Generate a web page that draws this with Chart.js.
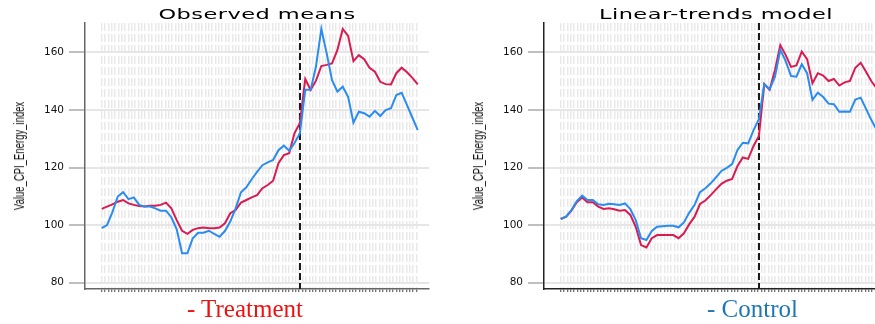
<!DOCTYPE html>
<html>
<head>
<meta charset="utf-8">
<script src="https://cdn.jsdelivr.net/npm/chart.js@4.4.1/dist/chart.umd.min.js"></script>
<style>
    html, body { margin: 0; padding: 0; width: 875px; height: 324px; overflow: hidden; background: #fff; }
    .panel { position: absolute; top: 0; width: 440px; height: 324px; }
    .panel canvas { position: absolute; left: 0; top: 0; }
    .title {
        position: absolute; top: 7px;
        font-family: "DejaVu Sans"; font-size: 14.5px; line-height: 14.5px;
        letter-spacing: 0.3px; white-space: nowrap; color: #000;
        transform: translateX(-50%) scaleX(1.55);
    }
    .ytitle {
        position: absolute; top: 156px;
        font-family: "Liberation Sans"; font-size: 14px; line-height: 14px;
        white-space: nowrap; color: #111;
        transform: translate(-50%, -50%) rotate(-90deg) scaleX(0.68);
    }
    .group {
        position: absolute; top: 296px;
        font-family: "Liberation Serif"; font-size: 25px; line-height: 25px; white-space: nowrap;
    }
</style>
</head>
<body>
<div class="panel" style="left:0px"><canvas id="obsChart" width="440" height="324"></canvas></div>
<div class="panel" style="left:459px"><canvas id="fitChart" width="440" height="324"></canvas></div>
<div class="title" style="left:257px">Observed means</div>
<div class="title" style="left:716px">Linear-trends model</div>
<div class="ytitle" style="left:19px">Value_CPI_Energy_index</div>
<div class="ytitle" style="left:478px">Value_CPI_Energy_index</div>
<div class="group" style="left:187px; color:#f01010">- Treatment</div>
<div class="group" style="left:707px; color:#1f77b4">- Control</div>

<script>
// monthly periods, 60 of them; policy break at period 37
const periods = Array.from({ length: 60 }, (_, i) => i);
const breakPeriod = 37;
const yTicks = [80, 100, 120, 140, 160];

// Observed means
const obsTreated = [
    105.6, 106.4, 107.2, 108.1, 108.7, 107.5, 107.0, 106.6, 106.4, 106.7,
    106.7, 107.0, 107.8, 105.8, 101.7, 98.0, 96.9, 98.3, 98.9, 99.1,
    98.9, 98.9, 99.1, 100.6, 104.1, 105.2, 107.8, 108.7, 109.6, 110.4,
    112.8, 113.9, 115.4, 121.5, 124.3, 125.0, 132.0, 135.5, 150.8, 147.0,
    150.2, 155.3, 155.7, 156.2, 160.9, 168.2, 165.8, 157.0, 159.1, 157.7,
    154.7, 153.3, 149.8, 149.0, 148.9, 152.8, 154.7, 153.1, 151.2, 148.9
];
const obsControl = [
    98.9, 100.0, 104.5, 109.9, 111.4, 109.0, 109.6, 107.0, 106.4, 106.4,
    105.8, 105.0, 105.0, 102.7, 98.5, 90.2, 90.2, 95.4, 97.3, 97.3,
    98.0, 96.9, 95.9, 97.9, 101.2, 105.8, 111.4, 113.1, 115.9, 118.5,
    120.8, 121.8, 122.6, 126.0, 127.6, 125.8, 128.5, 131.9, 147.0, 147.0,
    155.1, 168.2, 159.7, 150.4, 146.4, 148.1, 144.6, 135.6, 139.4, 138.9,
    137.7, 139.7, 137.9, 140.0, 140.6, 145.2, 146.0, 141.7, 137.3, 133.0
];

// Linear-trends model
const fitTreated = [
    102.1, 102.9, 105.0, 107.9, 109.6, 107.9, 107.9, 106.4, 105.6, 105.8,
    105.5, 105.0, 105.2, 103.5, 99.4, 93.0, 92.2, 95.4, 96.5, 96.5,
    96.5, 96.5, 95.4, 97.1, 100.3, 102.9, 107.3, 108.5, 110.4, 112.4,
    114.3, 115.4, 116.0, 120.5, 123.5, 123.0, 127.5, 131.0, 149.0, 147.0,
    153.9, 162.6, 159.1, 155.0, 155.5, 160.3, 157.7, 149.3, 152.8, 152.0,
    150.1, 150.8, 148.5, 149.6, 150.1, 154.7, 156.4, 153.3, 150.0, 147.5
];
const fitControl = [
    102.1, 102.9, 105.2, 108.3, 110.2, 108.7, 108.7, 107.2, 107.0, 107.4,
    107.2, 107.0, 107.5, 105.5, 101.7, 95.4, 94.8, 97.9, 99.4, 99.6,
    99.7, 99.7, 99.2, 100.9, 104.3, 107.0, 111.4, 112.8, 114.5, 116.6,
    118.8, 119.9, 121.2, 126.1, 128.6, 128.4, 133.0, 136.8, 149.0, 147.2,
    151.6, 160.9, 157.0, 151.8, 151.6, 155.9, 152.8, 143.5, 146.0, 144.5,
    142.2, 142.0, 139.4, 139.5, 139.4, 143.6, 144.3, 140.4, 136.5, 133.0
];

const RED = '#d81b50';
const BLUE = '#2b8cf0';

// light dashed vertical texture across the data range
const gridTicks = [];
for (let v = 0; v <= 59.01; v += 0.625) gridTicks.push(v);

const breakLine = {
    id: 'breakLine',
    beforeDatasetsDraw(chart) {
        const { ctx, chartArea, scales } = chart;
        const x = Math.round(scales.x.getPixelForValue(breakPeriod));
        ctx.save();
        ctx.strokeStyle = '#1a1a1a';
        ctx.lineWidth = 2;
        ctx.setLineDash([7, 3]);
        ctx.beginPath();
        ctx.moveTo(x, chartArea.top);
        ctx.lineTo(x, chartArea.bottom);
        ctx.stroke();
        ctx.restore();
    }
};

function toPoints(series) {
    return series.map((v, i) => ({ x: periods[i], y: v }));
}

function makeChart(id, treated, control, axisColor) {
    return new Chart(document.getElementById(id), {
        type: 'line',
        data: {
            datasets: [
                { data: toPoints(control), borderColor: BLUE, borderWidth: 2, pointRadius: 0, tension: 0 },
                { data: toPoints(treated), borderColor: RED, borderWidth: 2, pointRadius: 0, tension: 0 }
            ]
        },
        options: {
            responsive: false,
            animation: false,
            devicePixelRatio: 1,
            layout: { padding: { top: 23, right: 11, bottom: 25, left: 0 } },
            plugins: { legend: { display: false }, tooltip: { enabled: false } },
            scales: {
                x: {
                    type: 'linear',
                    min: -3.12,
                    max: 61.1,
                    afterBuildTicks: s => { s.ticks = gridTicks.map(v => ({ value: v })); },
                    afterFit: s => { s.height = 10; },
                    ticks: { display: false },
                    grid: { color: '#e9e9e9', lineWidth: 1.5, tickLength: 3, tickColor: '#444', tickWidth: 1 },
                    border: { color: axisColor, width: 1.5, dash: [8, 3] }
                },
                y: {
                    min: 77.74,
                    max: 170.26,
                    afterBuildTicks: s => { s.ticks = yTicks.map(v => ({ value: v })); },
                    afterFit: s => { s.width = 85; },
                    ticks: { color: '#111', padding: 5, font: { family: 'DejaVu Sans', size: 10.5 } },
                    grid: { color: '#e6e6e6', lineWidth: 2, tickLength: 16, tickColor: '#aaa', tickWidth: 1.5 },
                    border: { color: axisColor, width: 1.5 }
                }
            }
        },
        plugins: [breakLine]
    });
}

makeChart('obsChart', obsTreated, obsControl, '#666');
makeChart('fitChart', fitTreated, fitControl, '#222');
</script>
</body>
</html>
